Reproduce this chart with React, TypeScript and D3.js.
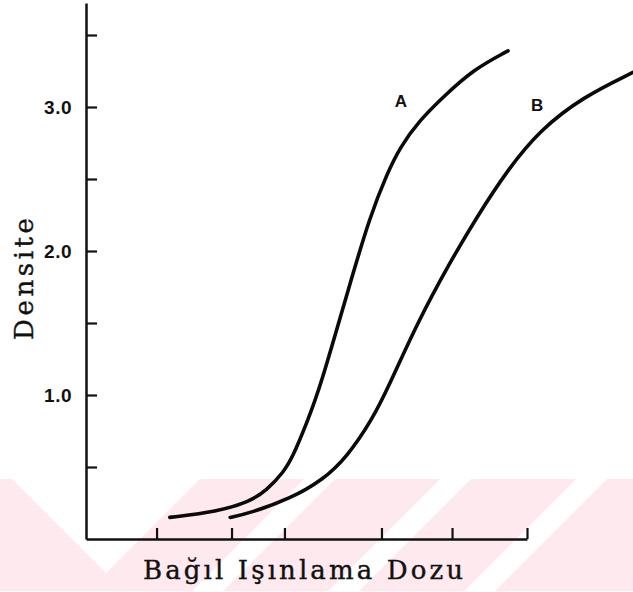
import React, {useRef, useEffect} from 'react';
import * as d3 from "d3";

// curve A (dose, densite)
const doseA = [1.9, 2.97, 3.72, 4.1, 4.47, 4.69, 5.01, 5.31, 5.99, 6.44, 6.83, 7.12, 7.57, 8.1, 8.78, 9.57];
const densA = [0.15, 0.19, 0.26, 0.34, 0.46, 0.57, 0.81, 1.05, 1.78, 2.24, 2.54, 2.72, 2.91, 3.07, 3.26, 3.39];

// curve B
const doseB = [3.27, 3.72, 4.63, 5.37, 5.92, 6.49, 6.85, 7.51, 8.25, 8.87, 9.55, 10.29, 11.27, 12.4];
const densB = [0.15, 0.18, 0.28, 0.41, 0.57, 0.83, 1.05, 1.5, 1.92, 2.24, 2.56, 2.84, 3.07, 3.24];

const curveNames = ["A", "B"];
const labelDose = [7.14, 10.23];
const labelDens = [3.0, 2.97];

const yTicks = [0.5, 1.0, 1.5, 2.0, 2.5, 3.0, 3.5];
const xTicks = [1.6, 3.3, 4.5, 6.7, 8.3, 10];

const xTitle = "Bağıl Işınlama Dozu";
const yTitle = "Densite";

function App(){
  const canvas = useRef(null);

  useEffect(() => {
    const width = 633;
    const height = 592;
    d3.select(canvas.current).select('svg').remove();

    const svg = d3
      .select(canvas.current)
      .append("svg")
      .attr("width", width)
      .attr("height", height)
      .style("position", "absolute")
      .style("left", 0)
      .style("top", 0)
      .style("background", "#fff");

    // pink watermark band at the bottom of the scan
    const wm = svg.append("g");
    wm.append("rect")
      .attr("x", 0).attr("y", 479)
      .attr("width", width).attr("height", 112)
      .attr("fill", "#fde9ee");
    wm.append("path")
      .attr("d", "M12,479 L200,479 L106,573 Z")
      .attr("fill", "#fff");
    [304, 440, 576].forEach(x0 => {
      wm.append("path")
        .attr("d", `M${x0},479 L${x0 + 31},479 L${x0 + 31 - 112},591 L${x0 - 112},591 Z`)
        .attr("fill", "#fff");
    });

    const x = d3.scaleLinear().domain([0, 10]).range([86, 527]);
    const y = d3.scaleLinear().domain([0, 536 / 144]).range([539, 3]);

    // Eje Y, ticks pointing inward
    const gy = svg.append("g")
      .attr("transform", `translate(${x(0)}, 0)`)
      .call(d3.axisLeft(y)
        .tickValues(yTicks)
        .tickSizeInner(-11)
        .tickSizeOuter(0)
        .tickPadding(14)
        .tickFormat(d => (d % 1 === 0 ? d.toFixed(1) : "")));
    gy.select(".domain").attr("stroke", "#111").attr("stroke-width", 2.5);
    gy.selectAll(".tick line").attr("stroke", "#111").attr("stroke-width", 2.2);
    gy.selectAll("text")
      .attr("fill", "#111")
      .style("font-family", "'Liberation Sans', Arial, sans-serif")
      .style("font-weight", "bold")
      .style("font-size", "19px")
      .style("letter-spacing", "0.5px");

    // Eje X, ticks upward, no labels
    const gx = svg.append("g")
      .attr("transform", `translate(0, ${y(0)})`)
      .call(d3.axisBottom(x)
        .tickValues(xTicks)
        .tickSizeInner(-11)
        .tickSizeOuter(0)
        .tickFormat(() => ""));
    gx.select(".domain").attr("stroke", "#111").attr("stroke-width", 2.5);
    gx.selectAll(".tick line").attr("stroke", "#111").attr("stroke-width", 2.2);

    const line = d3.line()
      .x(d => x(d[0]))
      .y(d => y(d[1]))
      .curve(d3.curveBasis);

    const series = [
      doseA.map((d, i) => [d, densA[i]]),
      doseB.map((d, i) => [d, densB[i]]),
    ];

    svg.selectAll(".curve")
      .data(series)
      .enter()
      .append("path")
      .attr("class", "curve")
      .attr("d", d => line(d))
      .attr("fill", "none")
      .attr("stroke", "#0a0a0a")
      .attr("stroke-width", 3.6)
      .attr("stroke-linecap", "round");

    // curve letters
    svg.selectAll(".lbl")
      .data(curveNames)
      .enter()
      .append("text")
      .attr("class", "lbl")
      .attr("x", (d, i) => x(labelDose[i]))
      .attr("y", (d, i) => y(labelDens[i]))
      .attr("text-anchor", "middle")
      .style("font-family", "'Liberation Sans', Arial, sans-serif")
      .style("font-weight", "bold")
      .style("font-size", "17px")
      .attr("fill", "#111")
      .text(d => d);

    // titles, typewriter look (slab serif stretched to the scan's width)
    svg.append("text")
      .attr("x", 303)
      .attr("y", 579)
      .attr("text-anchor", "middle")
      .attr("textLength", 320)
      .attr("lengthAdjust", "spacing")
      .style("font-family", "'DejaVu Serif', serif")
      .style("font-size", "26px")
      .attr("fill", "#111")
      .attr("stroke", "#111")
      .attr("stroke-width", 0.4)
      .text(xTitle);

    svg.append("text")
      .attr("transform", "translate(33, 279) rotate(-90)")
      .attr("text-anchor", "middle")
      .attr("textLength", 122)
      .attr("lengthAdjust", "spacing")
      .style("font-family", "'DejaVu Serif', serif")
      .style("font-size", "26px")
      .attr("fill", "#111")
      .attr("stroke", "#111")
      .attr("stroke-width", 0.4)
      .text(yTitle);

  }, []);

  return (
    <div ref={canvas}>
    </div>
  );
}

export default App;
